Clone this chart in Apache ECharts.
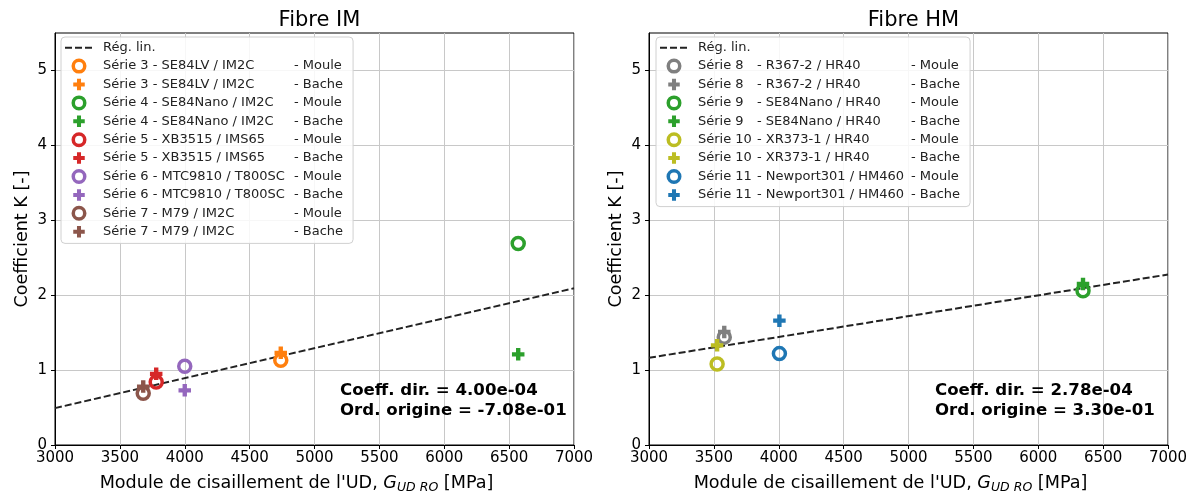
<!DOCTYPE html>
<html>
<head>
<meta charset="utf-8">
<script src="https://cdn.jsdelivr.net/npm/echarts@6/dist/echarts.min.js"></script>
<style>html,body{margin:0;padding:0;background:#fff}#c{width:1195px;height:495px}</style>
</head>
<body>
<div id="c"></div>
<script>
// ---- data ----
const titles = ['Fibre IM', 'Fibre HM'];
const fitName = 'Rég. lin.';
const fitX = [3000, 7000];
const imFitY = [0.492, 2.092];
const hmFitY = [1.164, 2.276];

const imNames = ['Série 3 - SE84LV / IM2C', 'Série 4 - SE84Nano / IM2C', 'Série 5 - XB3515 / IMS65', 'Série 6 - MTC9810 / T800SC', 'Série 7 - M79 / IM2C'];
const imG = [4740, 6570, 3780, 4000, 3680];
const imMoule = [1.13, 2.69, 0.84, 1.05, 0.69];
const imBache = [1.23, 1.21, 0.95, 0.73, 0.78];
const imColors = ['#ff7f0e', '#2ca02c', '#d62728', '#9467bd', '#8c564b'];

const hmNames = ['Série 8 - R367-2 / HR40', 'Série 9 - SE84Nano / HR40', 'Série 10 - XR373-1 / HR40', 'Série 11 - Newport301 / HM460'];
const hmG = [3580, 6345, 3525, 4005];
const hmMoule = [1.44, 2.06, 1.08, 1.22];
const hmBache = [1.51, 2.15, 1.33, 1.66];
const hmColors = ['#7f7f7f', '#2ca02c', '#bcbd22', '#1f77b4'];

const modes = ['Moule', 'Bache'];
const imAnnot = ['Coeff. dir. = 4.00e-04', 'Ord. origine = -7.08e-01'];
const hmAnnot = ['Coeff. dir. = 2.78e-04', 'Ord. origine = 3.30e-01'];
const yTicks = [0, 1, 2, 3, 4, 5];
const xLabel = "{n|Module de cisaillement de l'UD, }{g|G}{s|UD RO}{n| [MPa]}";
const yLabel = 'Coefficient K [-]';

// ---- build ----
const FONT = 'DejaVu Sans';
const PLUS = 'path://M3.9,0H8.1V3.9H12V8.1H8.1V12H3.9V8.1H0V3.9H3.9Z';
const grids = [
  {left: 55, right: 621, top: 33, bottom: 50},
  {left: 649, right: 27, top: 33, bottom: 50}
];
function xAxisOf(i) {
  return {
    gridIndex: i, type: 'value', min: 3000, max: 7000, interval: 500,
    name: xLabel, nameLocation: 'middle', nameGap: 27,
    nameTextStyle: {fontFamily: FONT, color: '#000', padding: [0, 36, 0, 0], rich: {
      n: {fontSize: 17.6, fontFamily: FONT, color: '#000', lineHeight: 22},
      g: {fontSize: 17.6, fontFamily: FONT, fontStyle: 'italic', color: '#000', lineHeight: 22},
      s: {fontSize: 12.5, fontFamily: FONT, fontStyle: 'italic', color: '#000', lineHeight: 12, verticalAlign: 'bottom'}
    }},
    axisLine: {show: true, onZero: false, lineStyle: {color: '#000', width: 1}},
    axisTick: {show: true, length: 4, lineStyle: {color: '#000'}},
    axisLabel: {fontSize: 15, fontFamily: FONT, color: '#000', margin: 6, formatter: v => String(v)},
    splitLine: {show: true, lineStyle: {color: '#c8c8c8', width: 1}}
  };
}
function yAxisOf(i) {
  return {
    gridIndex: i, type: 'value', min: 0, max: 5.5, interval: 1,
    name: yLabel, nameLocation: 'middle', nameGap: 24,
    nameTextStyle: {fontSize: 17.6, fontFamily: FONT, color: '#000'},
    axisLine: {show: true, onZero: false, lineStyle: {color: '#000', width: 1}},
    axisTick: {show: true, length: 4, lineStyle: {color: '#000'}, customValues: yTicks},
    axisLabel: {fontSize: 15, fontFamily: FONT, color: '#000', margin: 8, customValues: yTicks, formatter: v => String(v)},
    splitLine: {show: true, lineStyle: {color: '#c8c8c8', width: 1}}
  };
}
const series = [];
const legendData = [[], []];
function addFit(i, ys) {
  series.push({
    name: fitName, type: 'line', xAxisIndex: i, yAxisIndex: i, symbol: 'none', z: 1,
    data: fitX.map((x, k) => [x, ys[k]]),
    itemStyle: {color: '#222'},
    lineStyle: {color: '#222', width: 2, type: [7, 3]}, silent: true, animation: false
  });
  legendData[i].push({name: fitName, itemStyle: {color: 'rgba(0,0,0,0)', borderWidth: 0, opacity: 0}, lineStyle: {width: 2, type: [7, 3], color: '#222'}});
}
function addGroup(i, names, G, moule, bache, colors) {
  names.forEach((nm, k) => {
    const c = colors[k];
    const nMoule = nm + ' - ' + modes[0];
    const nBache = nm + ' - ' + modes[1];
    series.push({
      name: nMoule, type: 'scatter', xAxisIndex: i, yAxisIndex: i, z: 3,
      symbol: 'circle', symbolSize: 12, animation: false,
      itemStyle: {color: 'rgba(255,255,255,0)', borderColor: c, borderWidth: 3.5, opacity: 1},
      data: [[G[k], moule[k]]]
    });
    series.push({
      name: nBache, type: 'scatter', xAxisIndex: i, yAxisIndex: i, z: 4,
      symbol: PLUS, symbolSize: 12.5, animation: false,
      itemStyle: {color: c, borderWidth: 0, opacity: 1},
      data: [[G[k], bache[k]]]
    });
    legendData[i].push({name: nMoule, icon: 'circle', itemStyle: {color: 'rgba(255,255,255,0)', borderColor: c, borderWidth: 3.5}});
    legendData[i].push({name: nBache, icon: PLUS, itemStyle: {color: c, borderWidth: 0}});
  });
}
addFit(0, imFitY);
addGroup(0, imNames, imG, imMoule, imBache, imColors);
addFit(1, hmFitY);
addGroup(1, hmNames, hmG, hmMoule, hmBache, hmColors);

function legendOf(i, left, rich, fmt) {
  return {
    show: true, orient: 'vertical', left: left, top: 37,
    data: legendData[i], selectedMode: false,
    itemWidth: 28, itemHeight: 11.5, itemGap: 3,
    padding: [3, 10, 4, 3],
    backgroundColor: 'rgba(255,255,255,0.85)', borderColor: '#d0d0d0', borderWidth: 1, borderRadius: 4,
    textStyle: {fontSize: 13, fontFamily: FONT, color: '#222', lineHeight: 15.4, padding: [0, 0, 0, 5], rich: rich},
    formatter: fmt
  };
}
const richL = {
  a: {fontSize: 13, fontFamily: FONT, color: '#222', width: 191, lineHeight: 15.4},
  c: {fontSize: 13, fontFamily: FONT, color: '#222', lineHeight: 15.4}
};
const richR = {
  a: {fontSize: 13, fontFamily: FONT, color: '#222', width: 59, lineHeight: 15.4},
  b: {fontSize: 13, fontFamily: FONT, color: '#222', width: 154, lineHeight: 15.4},
  c: {fontSize: 13, fontFamily: FONT, color: '#222', lineHeight: 15.4}
};
function fmtL(name) {
  if (name === fitName) return name;
  const p = name.split(' - ');
  return '{a|' + p[0] + ' - ' + p[1] + '}{c|- ' + p[2] + '}';
}
function fmtR(name) {
  if (name === fitName) return name;
  const p = name.split(' - ');
  return '{a|' + p[0] + '}{b|- ' + p[1] + '}{c|- ' + p[2] + '}';
}

const option = {
  backgroundColor: '#fff',
  animation: false,
  title: [
    {text: titles[0], left: 314.5, top: 5, textAlign: 'center', textStyle: {fontSize: 21, fontWeight: 'normal', fontFamily: FONT, color: '#000'}},
    {text: titles[1], left: 908.5, top: 5, textAlign: 'center', textStyle: {fontSize: 21, fontWeight: 'normal', fontFamily: FONT, color: '#000'}}
  ],
  grid: grids.map(g => Object.assign({show: true, borderColor: '#000', borderWidth: 1, backgroundColor: 'transparent', containLabel: false, outerBoundsMode: 'none'}, g)),
  xAxis: [xAxisOf(0), xAxisOf(1)],
  yAxis: [yAxisOf(0), yAxisOf(1)],
  legend: [legendOf(0, 61, richL, fmtL), legendOf(1, 656, richR, fmtR)],
  series: series,
  graphic: [
    {type: 'text', left: 340, top: 380, z: 10, style: {text: imAnnot.join('\n'), font: 'bold 16.6px "DejaVu Sans"', lineHeight: 20.5, fill: '#000'}},
    {type: 'text', left: 935, top: 380, z: 10, style: {text: hmAnnot.join('\n'), font: 'bold 16.6px "DejaVu Sans"', lineHeight: 20.5, fill: '#000'}}
  ]
};
const chart = echarts.init(document.getElementById('c'), null, {renderer: 'canvas'});
chart.setOption(option);
</script>
</body>
</html>
